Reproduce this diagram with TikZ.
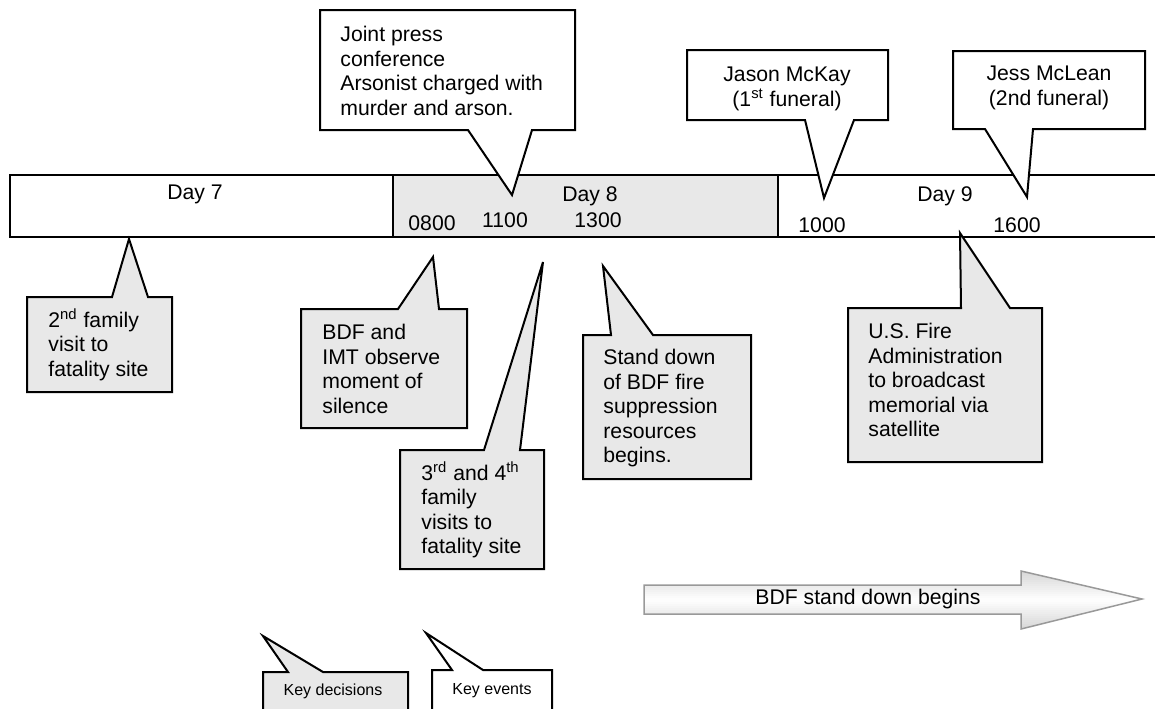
\documentclass[tikz,border=0pt]{standalone}
\usepackage{fontspec}
\setmainfont{Liberation Sans}
\definecolor{notegray}{RGB}{232,232,232}
\newcommand{\tstrut}{\rule{0pt}{9pt}}
% balloon: fill, left x, right x, y of the side with the pointer, other y, pointer base from/to x, tip
\newcommand{\notebox}[8]{%
  \draw[box,fill=#1] (#2,#4) -- (#6,#4) -- #8 -- (#7,#4) -- (#3,#4) -- (#3,#5) -- (#2,#5) -- cycle;}

\begin{document}
\begin{tikzpicture}[x=0.5pt,y=-0.5pt,line join=miter,
    box/.style={line width=1pt},
    txt/.style={font=\fontsize{10.6}{12.3}\selectfont,inner sep=0pt},
    para/.style={txt,align=left,anchor=north west},
    small/.style={font=\fontsize{8}{9.6}\selectfont,inner sep=0pt}]
  \useasboundingbox (0,0) rectangle (1155,708);
  \clip (0,0) rectangle (1155,708);

  % the three days
  \draw[box] (10,175) rectangle (393,237);
  \draw[box,fill=notegray] (393,175) rectangle (778,237);
  \draw[box] (778,175) rectangle (1170,237);
  \node[txt] (day7) at (195,194) {Day 7};
  \node[txt] (day8) at (590,196) {Day 8};
  \node[txt] (day9) at (945,196) {Day 9};
  \node[txt] (t0800) at (432,223) {0800};
  \node[txt] (t1100) at (505,220) {1100};
  \node[txt] (t1300) at (598,220) {1300};
  \node[txt] (t1000) at (822,225) {1000};
  \node[txt] (t1600) at (1017,225) {1600};

  % events above the line
  \notebox{white}{320}{575}{130}{10}{468}{532}{(512,195)}
  \notebox{white}{687}{888}{120}{50}{805}{854}{(824,198)}
  \notebox{white}{953}{1145}{129}{51}{985}{1033}{(1027,197)}
  \node[para] (press) at (340,23) {\tstrut Joint press\\conference\\Arsonist charged with\\murder and arson.};
  \node[txt,align=center] (mckay) at (787,89) {Jason McKay\\(1\textsuperscript{st} funeral)};
  \node[txt,align=center] (mclean) at (1049,88) {Jess McLean\\(2nd funeral)};

  % decisions below the line
  \notebox{notegray}{27}{172}{297}{392}{112}{148}{(129,239)}
  \notebox{notegray}{301}{467}{309}{428}{398}{439}{(433,257)}
  \notebox{notegray}{400}{544}{450}{569}{484}{520}{(543,262)}
  \notebox{notegray}{583}{751}{335}{479}{611}{653}{(603,266)}
  \notebox{notegray}{848}{1042}{308}{462}{961}{1010}{(960,233)}
  \node[para] (visit2) at (48,308) {\tstrut 2\textsuperscript{nd} family\\visit to\\fatality site};
  \node[para] (silence) at (322,321) {\tstrut BDF and\\IMT observe\\moment of\\silence};
  \node[para] (visit34) at (421,461) {\tstrut 3\textsuperscript{rd} and 4\textsuperscript{th}\\family\\visits to\\fatality site};
  \node[para] (standdown) at (603,346) {\tstrut Stand down\\of BDF fire\\suppression\\resources\\begins.};
  \node[para] (usfa) at (868,320) {\tstrut U.S. Fire\\Administration\\to broadcast\\memorial via\\satellite};

  % stand down arrow, grey at the edges and white in the middle
  \begin{scope}
    \clip (644,585) -- (1021,585) -- (1021,571) -- (1142,599) -- (1021,629) -- (1021,614) -- (644,614) -- cycle;
    \foreach \k in {0,...,29} {
      \pgfmathsetmacro\shadeamt{32*abs(\k-14.5)/14.5}
      \fill[gray!\shadeamt] (640,{570+2*\k}) rectangle (1150,{572.6+2*\k});
    }
  \end{scope}
  \draw[gray!80,line width=0.75pt] (644,585) -- (1021,585) -- (1021,571) -- (1142,599) -- (1021,629) -- (1021,614) -- (644,614) -- cycle;
  \node[txt] (standarrow) at (868,599) {BDF stand down begins};

  % legend
  \notebox{notegray}{263}{408}{672}{720}{288}{323}{(263,636)}
  \notebox{white}{432}{552}{670}{720}{452}{483}{(426,633)}
  \node[small] (keydec) at (333,691) {Key decisions};
  \node[small] (keyev) at (492,691) {Key events};
\end{tikzpicture}
\end{document}
